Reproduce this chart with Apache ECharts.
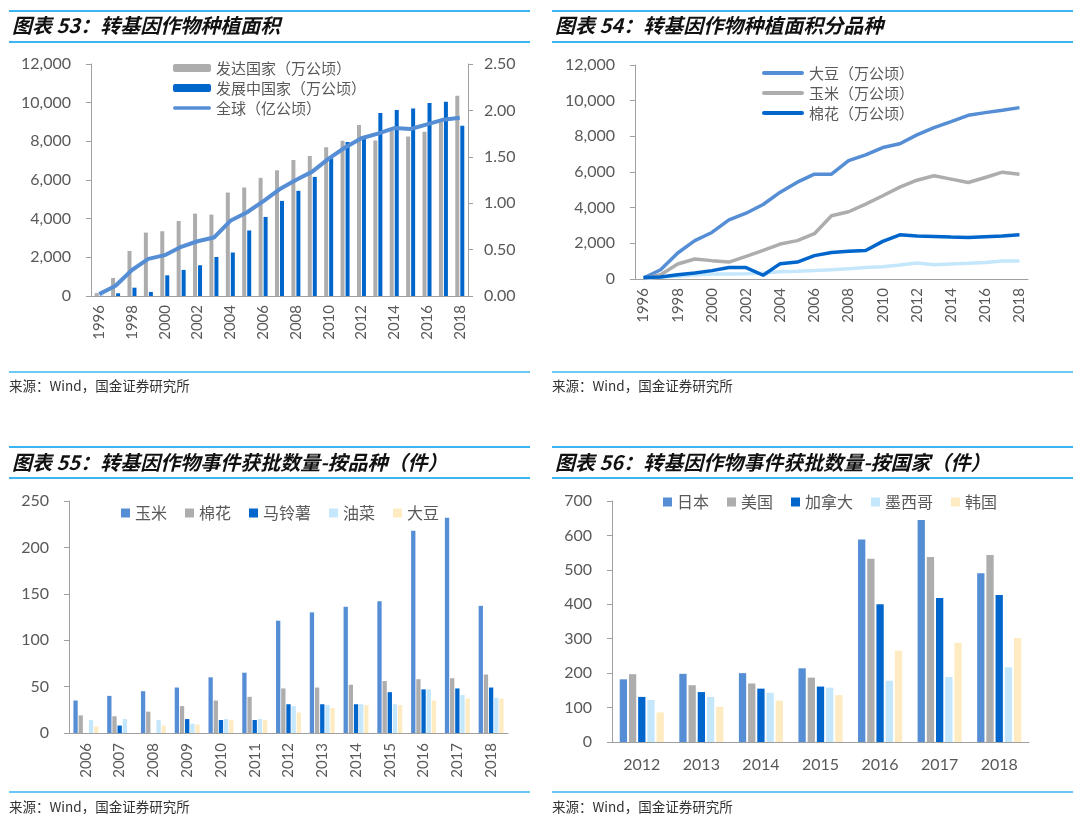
<!DOCTYPE html>
<html>
<head>
<meta charset="utf-8">
<title>转基因作物</title>
<script src="https://cdn.jsdelivr.net/npm/echarts@6/dist/echarts.min.js"></script>
<style>
  body{margin:0;background:#fff;}
  #main{width:1080px;height:818px;}
</style>
</head>
<body>
<div id="main"></div>
<script>
// 图表53 种植面积
var years53 = ['1996','1997','1998','1999','2000','2001','2002','2003','2004','2005','2006','2007','2008','2009','2010','2011','2012','2013','2014','2015','2016','2017','2018'];
var developed = [150,930,2330,3280,3350,3880,4260,4210,5350,5610,6110,6500,7040,7240,7700,8030,8850,8040,8560,8250,8500,9050,10360];
var developing = [10,140,430,210,1070,1350,1590,2020,2250,3390,4090,4920,5440,6160,7120,7960,8250,9460,9620,9700,9980,10050,8810];
var globalArea = [0.02,0.11,0.28,0.40,0.44,0.53,0.59,0.63,0.81,0.90,1.02,1.15,1.25,1.34,1.48,1.60,1.70,1.75,1.81,1.80,1.85,1.90,1.92];

// 图表54 分品种
var soybean = [50,520,1460,2150,2610,3320,3690,4180,4870,5430,5880,5880,6640,6960,7370,7580,8080,8490,8830,9180,9330,9460,9610];
var maize = [30,240,840,1120,1030,950,1270,1600,1960,2150,2540,3550,3770,4200,4670,5150,5540,5790,5600,5410,5690,5990,5880];
var cotton = [80,110,240,340,470,640,640,210,860,950,1310,1490,1550,1600,2110,2480,2410,2390,2350,2330,2370,2410,2480];
var canola = [30,110,150,220,280,280,300,340,410,430,470,520,580,640,690,780,900,800,840,880,930,1010,1010];

// 图表55 按品种（件）
var years55 = ['2006','2007','2008','2009','2010','2011','2012','2013','2014','2015','2016','2017','2018'];
var maize55 = [35,40,45,49,60,65,121,130,136,142,218,232,137];
var cotton55 = [19,18,23,29,35,39,48,49,52,56,58,59,63];
var potato55 = [0,8,0,15,14,14,31,31,31,44,47,48,49];
var canola55 = [14,15,14,10,15,15,29,30,31,31,47,41,38];
var soy55 = [7,0,8,9,14,14,22,27,30,30,35,37,37];

// 图表56 按国家（件）
var years56 = ['2012','2013','2014','2015','2016','2017','2018'];
var japan = [182,198,200,214,588,645,490];
var usa = [197,165,170,187,532,537,543];
var canada = [131,145,155,161,400,418,427];
var mexico = [122,131,143,158,178,189,217];
var korea = [86,102,120,136,265,288,302];

var titles = ['图表 53：转基因作物种植面积','图表 54：转基因作物种植面积分品种',
  '图表 55：转基因作物事件获批数量-按品种（件）','图表 56：转基因作物事件获批数量-按国家（件）'];
var source = '来源：Wind，国金证券研究所';

var C_MID='#558ED5', C_GRAY='#ADADAD', C_DARK='#0066CC', C_LIGHT='#C4E7FB', C_YELLOW='#FFEBC1';
var AXIS_C='#A0A0A0', TXT_C='#595959', RULE_C='#3DB5F2';
var numFont='Lato', cnFont='"Noto Sans CJK SC"';
// 图例里的粗线（圆头，不带点）
var LINE_ICON = 'path://M2,0 H40 A2,2 0 0 1 40,4 H2 A2,2 0 0 1 2,0 Z';

var myChart = echarts.init(document.getElementById('main'));

function xCat(grid, data, opt){
  return {
    gridIndex:grid, type:'category', data:data, boundaryGap:true,
    axisLine:{lineStyle:{color:AXIS_C,width:1}},
    axisTick:{interval:opt.tick, length:5, lineStyle:{color:AXIS_C}},
    axisLabel:{interval:opt.label, rotate:opt.rotate, margin:opt.margin, color:TXT_C, fontFamily:numFont, fontSize:opt.size}
  };
}
function yVal(grid, max, step, fmt, pos, margin){
  return {
    gridIndex:grid, type:'value', min:0, max:max, interval:step, position:pos||'left',
    splitLine:{show:false},
    axisLine:{show:true, lineStyle:{color:AXIS_C,width:1}},
    axisTick:{show:true, length:5, lineStyle:{color:AXIS_C}},
    axisLabel:{formatter:fmt, margin:margin||18, color:TXT_C, fontFamily:numFont, fontSize:16}
  };
}
var comma = function(v){ return v.toLocaleString('en-US'); };

// 标题和分隔线
var graphics = [];
function header(x1, x2, yTop, yTxt, yBot, text, ySrcLine, ySrc){
  graphics.push({type:'line', shape:{x1:x1,y1:yTop,x2:x2,y2:yTop}, style:{stroke:RULE_C,lineWidth:2}});
  graphics.push({type:'line', shape:{x1:x1,y1:yBot,x2:x2,y2:yBot}, style:{stroke:RULE_C,lineWidth:2}});
  graphics.push({type:'line', shape:{x1:x1,y1:ySrcLine,x2:x2,y2:ySrcLine}, style:{stroke:RULE_C,lineWidth:1.5}});
  graphics.push({type:'text', x:x1+3, y:yTxt, style:{text:text, fill:'#111', fontSize:20, fontWeight:'bold', fontStyle:'italic', fontFamily:cnFont, verticalAlign:'middle'}});
  graphics.push({type:'text', x:x1, y:ySrc, style:{text:source, fill:'#333', fontSize:13.5, fontFamily:cnFont, verticalAlign:'middle'}});
}
header(9, 530, 11, 25, 42, titles[0], 372, 386);
header(552, 1073, 11, 25, 42, titles[1], 372, 386);
header(9, 530, 447, 462, 478, titles[2], 792, 807);
header(552, 1073, 447, 462, 478, titles[3], 792, 807);

var legendText = {color:TXT_C, fontFamily:cnFont, fontSize:15, lineHeight:20};

myChart.setOption({
  animation:false,
  backgroundColor:'#fff',
  graphic:graphics,
  grid:[
    {left:91, top:64, width:377, height:232},
    {left:635, top:65, width:393, height:214},
    {left:69, top:501, width:439, height:232},
    {left:612, top:501, width:417, height:241}
  ],
  legend:[
    {orient:'vertical', left:168, top:53, itemWidth:38, itemHeight:8, itemGap:0,
     data:['发达国家（万公顷）','发展中国家（万公顷）',{name:'全球（亿公顷）', icon:LINE_ICON}], textStyle:legendText},
    {orient:'vertical', left:757, top:58, itemWidth:42, itemHeight:8, itemGap:0,
     data:[{name:'大豆（万公顷）', icon:LINE_ICON},{name:'玉米（万公顷）', icon:LINE_ICON},{name:'棉花（万公顷）', icon:LINE_ICON}], textStyle:legendText},
    {left:116, top:498, itemWidth:9, itemHeight:9, itemGap:18, icon:'rect',
     data:['玉米','棉花','马铃薯','油菜','大豆'], textStyle:{color:TXT_C, fontFamily:cnFont, fontSize:16, lineHeight:20}},
    {left:658, top:487, itemWidth:9, itemHeight:9, itemGap:18, icon:'rect',
     data:['日本','美国','加拿大','墨西哥','韩国'], textStyle:{color:TXT_C, fontFamily:cnFont, fontSize:16, lineHeight:20}}
  ],
  xAxis:[
    xCat(0, years53, {tick:1, label:1, rotate:90, margin:9, size:15}),
    xCat(1, years53, {tick:1, label:1, rotate:90, margin:9, size:15}),
    xCat(2, years55, {tick:0, label:0, rotate:90, margin:10, size:15}),
    xCat(3, years56, {tick:0, label:0, rotate:0, margin:15, size:16})
  ],
  yAxis:[
    yVal(0, 12000, 2000, comma, 'left', 20),
    yVal(0, 2.5, 0.5, function(v){return v.toFixed(2);}, 'right', 16),
    yVal(1, 12000, 2000, comma, 'left', 20),
    yVal(2, 250, 50, null, 'left', 20),
    yVal(3, 700, 100, null, 'left', 20)
  ],
  series:[
    {name:'发达国家（万公顷）', type:'bar', xAxisIndex:0, yAxisIndex:0, data:developed, barWidth:4, barGap:'25%', itemStyle:{color:C_GRAY}},
    {name:'发展中国家（万公顷）', type:'bar', xAxisIndex:0, yAxisIndex:0, data:developing, barWidth:4, barGap:'25%', itemStyle:{color:C_DARK}},
    {name:'全球（亿公顷）', type:'line', xAxisIndex:0, yAxisIndex:1, data:globalArea, symbol:'none', lineStyle:{color:C_MID,width:4}, itemStyle:{color:C_MID}},

    {name:'油菜（万公顷）', type:'line', xAxisIndex:1, yAxisIndex:2, data:canola, symbol:'none', lineStyle:{color:C_LIGHT,width:3.5}, itemStyle:{color:C_LIGHT}},
    {name:'大豆（万公顷）', type:'line', xAxisIndex:1, yAxisIndex:2, data:soybean, symbol:'none', lineStyle:{color:C_MID,width:3.5}, itemStyle:{color:C_MID}},
    {name:'玉米（万公顷）', type:'line', xAxisIndex:1, yAxisIndex:2, data:maize, symbol:'none', lineStyle:{color:C_GRAY,width:3.5}, itemStyle:{color:C_GRAY}},
    {name:'棉花（万公顷）', type:'line', xAxisIndex:1, yAxisIndex:2, data:cotton, symbol:'none', lineStyle:{color:C_DARK,width:3.5}, itemStyle:{color:C_DARK}},

    {name:'玉米', type:'bar', xAxisIndex:2, yAxisIndex:3, data:maize55, barWidth:4.3, barGap:'20%', itemStyle:{color:C_MID}},
    {name:'棉花', type:'bar', xAxisIndex:2, yAxisIndex:3, data:cotton55, barWidth:4.3, barGap:'20%', itemStyle:{color:C_GRAY}},
    {name:'马铃薯', type:'bar', xAxisIndex:2, yAxisIndex:3, data:potato55, barWidth:4.3, barGap:'20%', itemStyle:{color:C_DARK}},
    {name:'油菜', type:'bar', xAxisIndex:2, yAxisIndex:3, data:canola55, barWidth:4.3, barGap:'20%', itemStyle:{color:C_LIGHT}},
    {name:'大豆', type:'bar', xAxisIndex:2, yAxisIndex:3, data:soy55, barWidth:4.3, barGap:'20%', itemStyle:{color:C_YELLOW}},

    {name:'日本', type:'bar', xAxisIndex:3, yAxisIndex:4, data:japan, barWidth:7.3, barGap:'26%', itemStyle:{color:C_MID}},
    {name:'美国', type:'bar', xAxisIndex:3, yAxisIndex:4, data:usa, barWidth:7.3, barGap:'26%', itemStyle:{color:C_GRAY}},
    {name:'加拿大', type:'bar', xAxisIndex:3, yAxisIndex:4, data:canada, barWidth:7.3, barGap:'26%', itemStyle:{color:C_DARK}},
    {name:'墨西哥', type:'bar', xAxisIndex:3, yAxisIndex:4, data:mexico, barWidth:7.3, barGap:'26%', itemStyle:{color:C_LIGHT}},
    {name:'韩国', type:'bar', xAxisIndex:3, yAxisIndex:4, data:korea, barWidth:7.3, barGap:'26%', itemStyle:{color:C_YELLOW}}
  ]
});
</script>
</body>
</html>
